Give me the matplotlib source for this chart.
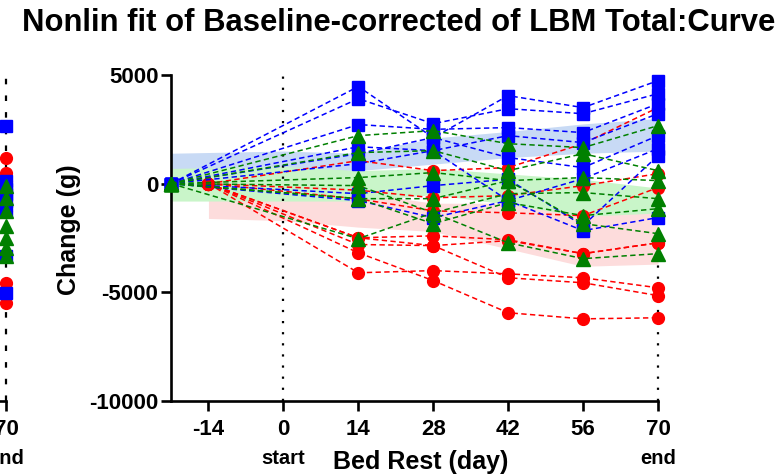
import matplotlib
matplotlib.use('Agg')
import matplotlib.pyplot as plt
import matplotlib.transforms as mtransforms

plt.rcParams['font.family'] = ['Liberation Sans', 'DejaVu Sans']
plt.rcParams['font.weight'] = 'bold'
plt.rcParams['axes.unicode_minus'] = False

# ---------------- data ----------------
title = "Nonlin fit of Baseline-corrected of LBM Total:Curve"
x_ticks = [-14, 0, 14, 28, 42, 56, 70]
y_ticks = [5000, 0, -5000, -10000]

days_bg = [-21, 14, 28, 42, 56, 70]     # blue / green groups
days_r = [-14, 14, 28, 42, 56, 70]      # red group

blue_series = [
    [0, 4470, 2120, 4050, 3500, 4740],
    [0, 3910, 2760, 3450, 3220, 4140],
    [0, 2720, 2500, 2580, 2350, 3680],
    [0, 1700, 1520, 2210, 1890, 3220],
    [0, 1380, 2120, 1200, 740, 2210],
    [0, 920, 1520, -780, 230, 1610],
    [0, -460, -90, 200, -1930, 1290],
    [0, -780, -1560, -780, -2160, -1560],
]
green_series = [
    [0, 2210, 2440, 1840, 1660, 2670],
    [0, 1430, 1520, 600, 1380, 600],
    [0, 280, 510, 140, 280, 140],
    [0, -90, -1340, -460, -410, -690],
    [0, -690, -1840, -870, -1470, -1150],
    [0, -690, -690, 140, -1840, -2300],
    [0, -2530, -1340, -2720, -3450, -3220],
]
red_series = [
    [0, 1060, 600, 740, 1840, 3500],
    [0, -300, -650, -550, -90, 460],
    [0, -700, -1250, -1340, -1470, -180],
    [0, -2490, -2400, -2580, -3220, -2720],
    [0, -2800, -2850, -4330, -4560, -5150],
    [0, -4100, -4000, -4150, -4330, -4790],
    [0, -3180, -4460, -5940, -6220, -6170],
    [0, -2490, -2850, -2620, -3220, -2720],
]

band_days_bg = [-21, 0, 14, 28, 42, 56, 70]
blue_band_hi = [1400, 1500, 1400, 2100, 2400, 2750, 3000]
blue_band_lo = [700, 800, 600, 900, 1200, 1400, 1500]
green_band_hi = [1000, 900, 600, 700, 450, 200, -200]
green_band_lo = [-800, -800, -800, -500, -950, -1500, -1350]
band_days_r = [-14, 0, 14, 28, 42, 56, 70]
red_band_hi = [1200, 600, -400, -900, -900, -1200, -1350]
red_band_lo = [-1600, -1700, -2000, -2200, -3000, -3800, -3700]

# neighbouring (cut-off) panel: values at day 70
left_day = 70
left_blue = [2670, 140, -230, -460, -780, -1240, -3310, -5020]
left_red = [1200, 510, 140, -300, -900, -1240, -4560, -5480]
left_green = [-90, -650, -1240, -1930, -2490, -2950, -3310]

# ---------------- figure ----------------
W, H = 782, 476
fig = plt.figure(figsize=(W / 100, H / 100), dpi=100)

ax_l, ax_b, ax_w, ax_h = 171, 75, 487, 326
ax = fig.add_axes([ax_l / W, ax_b / H, ax_w / W, ax_h / H])
ax.set_xlim(-21, 70)
ax.set_ylim(-10000, 5000)

blue_c, green_c, red_c = '#0000ff', '#008000', '#ff0000'
ax.fill_between(band_days_r, red_band_lo, red_band_hi, color='#fddcdc', lw=0, zorder=1)
ax.fill_between(band_days_bg, green_band_lo, green_band_hi, color='#c9f5c9', lw=0, zorder=1.1)
ax.fill_between(band_days_bg, blue_band_lo, blue_band_hi, color='#c8daf5', lw=0, zorder=1.2)

ax.axvline(0, color='black', ls=(0, (1, 4)), lw=1.6, zorder=1.5)
ax.axvline(70, color='black', ls=(0, (1, 4)), lw=1.6, zorder=1.5, clip_on=False)

dash = (0, (3.5, 2.2))
for s in red_series:
    ax.plot(days_r, s, ls=dash, lw=1.1, color=red_c, marker='o', ms=8.5,
            mec=red_c, mfc=red_c, clip_on=False, zorder=3)
for s in blue_series:
    ax.plot(days_bg, s, ls=dash, lw=1.1, color=blue_c, marker='s', ms=8,
            mec=blue_c, mfc=blue_c, clip_on=False, zorder=4)
for s in green_series:
    ax.plot(days_bg, s, ls=dash, lw=1.1, color=green_c, marker='^', ms=9.5,
            mec=green_c, mfc=green_c, clip_on=False, zorder=5)

for sp in ['top', 'right']:
    ax.spines[sp].set_visible(False)
for sp in ['left', 'bottom']:
    ax.spines[sp].set_linewidth(1.9)
ax.set_xticks(x_ticks)
ax.set_xticklabels([str(t) for t in x_ticks])
ax.set_yticks(y_ticks)
ax.set_yticklabels([str(t) for t in y_ticks])
ax.tick_params(axis='both', length=7, width=1.9, labelsize=16, direction='out')
ax.tick_params(axis='x', pad=6)
ax.tick_params(axis='y', pad=2)
for lab in ax.get_xticklabels() + ax.get_yticklabels():
    lab.set_fontweight('bold')

trans = mtransforms.blended_transform_factory(ax.transData, fig.transFigure)
ax.text(0, 1 - 458 / H, 'start', transform=trans, ha='center', va='center',
        fontsize=14.5, fontweight='bold')
ax.text(70, 1 - 458 / H, 'end', transform=trans, ha='center', va='center',
        fontsize=14.5, fontweight='bold')
fig.text(421 / W, 1 - 462 / H, 'Bed Rest (day)', ha='center', va='center',
         fontsize=18, fontweight='bold')
fig.text(69 / W, 1 - 230 / H, 'Change (g)', ha='center', va='center',
         rotation=90, fontsize=18, fontweight='bold')

# ---------------- cut-off neighbouring panel ----------------
axl = fig.add_axes([(6 - 300) / W, ax_b / H, 300 / W, ax_h / H])
axl.set_xlim(14, 70)
axl.set_ylim(-10000, 5000)
axl.axvline(70, color='black', ls=(0, (2.5, 5)), lw=1.6, clip_on=False)
axl.plot([left_day] * len(left_blue), left_blue, ls='none', marker='s', ms=8,
         color=blue_c, clip_on=False, zorder=4)
axl.plot([left_day] * len(left_red), left_red, ls='none', marker='o', ms=8.5,
         color=red_c, clip_on=False, zorder=3)
axl.plot([left_day] * len(left_green), left_green, ls='none', marker='^', ms=9.5,
         color=green_c, clip_on=False, zorder=5)
for sp in ['top', 'right', 'left']:
    axl.spines[sp].set_visible(False)
axl.spines['bottom'].set_linewidth(1.9)
axl.set_yticks([])
axl.set_xticks([70])
axl.set_xticklabels(['70'])
axl.tick_params(axis='x', length=7, width=1.9, labelsize=16, pad=6)
for lab in axl.get_xticklabels():
    lab.set_fontweight('bold')
transl = mtransforms.blended_transform_factory(axl.transData, fig.transFigure)
axl.text(70, 1 - 458 / H, 'end', transform=transl, ha='center', va='center',
         fontsize=14.5, fontweight='bold')

# ---------------- title (fit width) ----------------
t = fig.text(22 / W, 1 - 23 / H, title, ha='left', va='center', fontsize=22,
             fontweight='bold')
fig.canvas.draw()
bb = t.get_window_extent()
t.set_fontsize(22 * 753 / bb.width)

fig.savefig('out.png', dpi=100)
